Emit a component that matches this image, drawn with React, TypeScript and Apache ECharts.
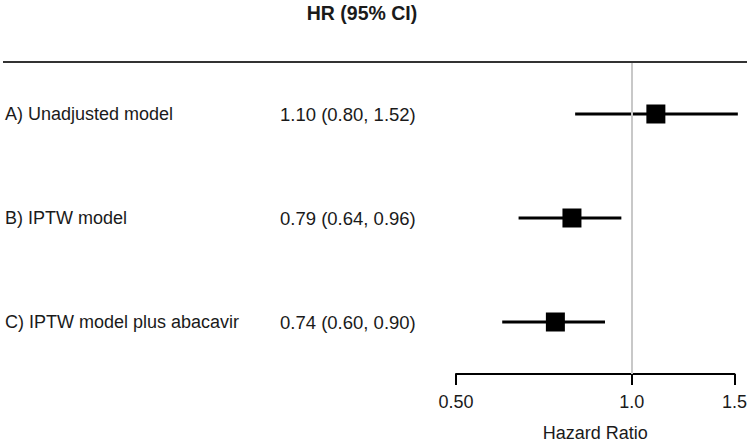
import React, { useEffect, useRef } from "react";
import * as echarts from "echarts";

const models = ["A) Unadjusted model", "B) IPTW model", "C) IPTW model plus abacavir"];
const hrText = ["1.10 (0.80, 1.52)", "0.79 (0.64, 0.96)", "0.74 (0.60, 0.90)"];
const hr = [1.10, 0.79, 0.74];
const lower = [0.80, 0.64, 0.60];
const upper = [1.52, 0.96, 0.90];
const tickValues = [0.5, 1.0, 1.5];
const tickLabels = ["0.50", "1.0", "1.5"];

const FONT = "'Liberation Sans', Arial, sans-serif";
const TXT = "#1a1a1a";

export default function App() {
  const ref = useRef<HTMLDivElement>(null);
  useEffect(() => {
    document.body.style.margin = "0";
    if (!ref.current) return;
    const chart = echarts.init(ref.current, null, { renderer: "svg" });
    const ciData = models.map((_, i) => [lower[i], upper[i], i]);
    const ptData = models.map((_, i) => [hr[i], i]);
    chart.setOption({
      animation: false,
      backgroundColor: "#fff",
      textStyle: { fontFamily: FONT },
      grid: { left: 456, right: 15, top: 62, bottom: 72, containLabel: false },
      graphic: [
        {
          type: "text",
          x: 362,
          y: 13,
          style: {
            text: "HR (95% CI)",
            font: `bold 19.5px ${FONT}`,
            fill: TXT,
            align: "center",
            verticalAlign: "middle",
          },
        },
        {
          type: "line",
          shape: { x1: 3, y1: 62, x2: 747, y2: 62 },
          style: { stroke: "#333", lineWidth: 2 },
          z: 10,
        },
      ],
      xAxis: {
        type: "log",
        logBase: 10,
        min: 0.5,
        max: 1.5,
        name: "Hazard Ratio",
        nameLocation: "middle",
        nameGap: 50,
        nameTextStyle: { fontSize: 18, color: TXT, fontFamily: FONT },
        axisLine: { show: true, lineStyle: { color: "#000", width: 2 } },
        axisTick: {
          show: true,
          length: 11,
          inside: false,
          customValues: tickValues,
          lineStyle: { color: "#000", width: 2 },
        },
        axisLabel: {
          show: true,
          customValues: tickValues,
          margin: 19,
          fontSize: 18,
          color: TXT,
          fontFamily: FONT,
          formatter: (v: number) => {
            const idx = tickValues.findIndex((t) => Math.abs(t - v) < 1e-6);
            return idx >= 0 ? tickLabels[idx] : "";
          },
        },
        splitLine: { show: false },
        minorTick: { show: false },
        minorSplitLine: { show: false },
      },
      yAxis: [
        {
          type: "category",
          data: models,
          inverse: true,
          position: "left",
          axisLine: { show: false },
          axisTick: { show: false },
          splitLine: { show: false },
          axisLabel: {
            margin: 451,
            align: "left",
            fontSize: 18,
            color: TXT,
            fontFamily: FONT,
          },
        },
        {
          type: "category",
          data: hrText,
          inverse: true,
          position: "left",
          offset: 0,
          axisLine: { show: false },
          axisTick: { show: false },
          splitLine: { show: false },
          axisLabel: {
            margin: 176,
            align: "left",
            fontSize: 18.5,
            color: TXT,
            fontFamily: FONT,
          },
        },
      ],
      series: [
        {
          type: "scatter",
          data: [],
          z: 1,
          silent: true,
          markLine: {
            silent: true,
            symbol: "none",
            label: { show: false },
            lineStyle: { color: "#c8c8c8", width: 2, type: "solid" },
            data: [{ xAxis: 1 }],
          },
        },
        {
          type: "custom",
          z: 2,
          clip: false,
          data: ciData,
          encode: { x: [0, 1], y: 2 },
          renderItem: (_params: any, api: any) => {
            const a = api.coord([api.value(0), api.value(2)]);
            const b = api.coord([api.value(1), api.value(2)]);
            return {
              type: "line",
              shape: { x1: a[0], y1: a[1], x2: b[0], y2: b[1] },
              style: { stroke: "#000", lineWidth: 3 },
            };
          },
        },
        {
          type: "scatter",
          z: 3,
          data: ptData,
          symbol: "rect",
          symbolSize: 19,
          itemStyle: { color: "#000", opacity: 1 },
        },
      ],
    });
    return () => chart.dispose();
  }, []);
  return <div ref={ref} style={{ width: 750, height: 447 }} />;
}
